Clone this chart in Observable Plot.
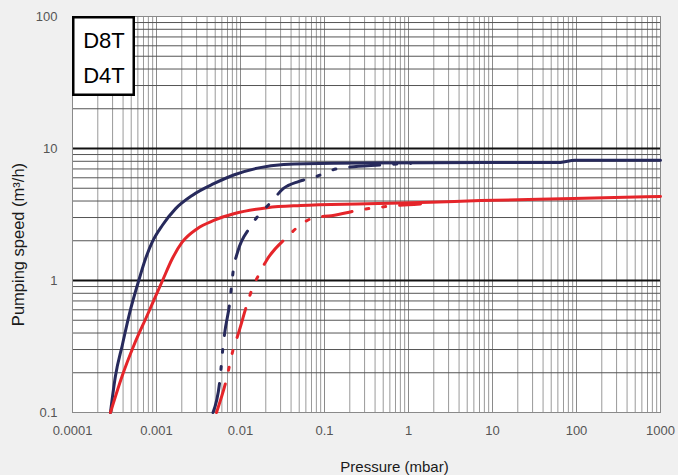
<!DOCTYPE html>
<html>
<head>
<meta charset="utf-8">
<script src="https://cdn.jsdelivr.net/npm/d3@7"></script>
<script src="https://cdn.jsdelivr.net/npm/@observablehq/plot@0.6"></script>
<style>
  html, body { margin: 0; padding: 0; background: #f0f0f0; }
  #chart { width: 678px; height: 475px; }
</style>
</head>
<body>
<div id="chart"></div>
<script>
// ---- tick values and labels ----
const xTicks = [0.0001, 0.001, 0.01, 0.1, 1, 10, 100, 1000];
const xTickLabels = ["0.0001", "0.001", "0.01", "0.1", "1", "10", "100", "1000"];
const yTicks = [0.1, 1, 10, 100];
const yTickLabels = ["0.1", "1", "10", "100"];
const xLabel = "Pressure (mbar)";
const yLabel = "Pumping speed (m³/h)";
const legendLabels = ["D8T", "D4T"];

// ---- D8T solid curve ----
const d8tPressure = [2.83e-4, 3.25e-4, 3.91e-4, 4.77e-4, 6.15e-4, 7.4e-4, 8.89e-4, 1.17e-3, 1.68e-3, 2.66e-3, 4.81e-3, 8.3e-3, 0.0159, 0.0327, 0.128, 1.83, 64.6, 95, 1000];
const d8tSpeed    = [0.1,     0.19,    0.322,   0.562,   1.0,     1.46,   1.95,    2.61,    3.49,    4.41,    5.41,    6.3,    7.1,    7.57,   7.74,  7.8,  7.85, 8.15, 8.15];

// ---- D4T solid curve ----
const d4tPressure = [2.83e-4, 3.91e-4, 5.37e-4, 7.74e-4, 1.18e-3, 1.54e-3, 2.02e-3, 3.05e-3, 4.81e-3, 8.31e-3, 0.0208, 0.0518, 0.322, 1.83, 7.2, 92, 1000];
const d4tSpeed    = [0.1,     0.19,    0.322,   0.543,   1.0,     1.46,    1.95,    2.47,    2.85,    3.2,     3.56,   3.70,   3.81,  3.92, 4.03, 4.18, 4.33];

// ---- D8T dash-dot curve ----
const d8tDashPressure = [4.71e-3, 5.68e-3, 6.16e-3, 6.5e-3, 7.46e-3, 7.81e-3, 8.26e-3, 9.2e-3, 0.01315, 0.024, 0.0325, 0.049, 0.074, 0.1416, 0.464, 1.06];
const d8tDashSpeed    = [0.1,     0.175,   0.304,   0.405,  0.686,   0.901,   1.23,    1.63,   2.56,    4.03,  4.98,   5.62,  6.03,  7.02,   7.5,   7.7];

// ---- D4T dash-dot curve ----
const d4tDashPressure = [5.18e-3, 6.76e-3, 8.18e-3, 9.4e-3, 0.0120, 0.01378, 0.0168, 0.0204, 0.0363, 0.0504, 0.076, 0.121, 0.283, 0.74, 1.39];
const d4tDashSpeed    = [0.1,     0.175,   0.30,    0.394,  0.665,  0.865,   1.13,   1.42,   2.15,   2.61,   3.0,   3.1,   3.45,  3.7,  3.8];

const navy = "#272a5c";
const red = "#e5252a";
const font = "'Liberation Sans', Arial, Helvetica, sans-serif";

const toRows = (P, S) => P.map((p, i) => ({p, s: S[i]}));

const minorSteps = [2, 3, 4, 5, 6, 7, 8, 9];
const xMinor = xTicks.slice(0, -1).flatMap(d => minorSteps.map(k => d * k));
const yMinor = yTicks.slice(0, -1).flatMap(d => minorSteps.map(k => d * k));

const dashPattern = "30,14,3,14,3,14";

const mLeft = 72, mTop = 16;

const plot = Plot.plot({
  width: 678,
  height: 475,
  marginLeft: mLeft,
  marginRight: 18,
  marginTop: mTop,
  marginBottom: 63,
  style: {background: "#f0f0f0", fontFamily: font},
  x: {type: "log", domain: [1e-4, 1e3]},
  y: {type: "log", domain: [0.1, 100]},
  marks: [
    Plot.frame({fill: "white", stroke: null}),
    Plot.ruleX(xMinor, {stroke: "#9a9a9a", strokeWidth: 1}),
    Plot.ruleX(xTicks, {stroke: "#8a8a8a", strokeWidth: 1}),
    Plot.ruleY(yMinor, {stroke: "#555", strokeWidth: 1}),
    Plot.ruleY([1, 10], {stroke: "#111", strokeWidth: 2}),
    Plot.frame({stroke: "#8a8a8a", fill: null}),
    Plot.line(toRows(d8tPressure, d8tSpeed), {x: "p", y: "s", stroke: navy, strokeWidth: 3, curve: "monotone-x"}),
    Plot.line(toRows(d4tPressure, d4tSpeed), {x: "p", y: "s", stroke: red, strokeWidth: 3, curve: "monotone-x"}),
    Plot.line(toRows(d8tDashPressure, d8tDashSpeed), {x: "p", y: "s", stroke: navy, strokeWidth: 3, curve: "monotone-x", strokeDasharray: dashPattern}),
    Plot.line(toRows(d4tDashPressure, d4tDashSpeed), {x: "p", y: "s", stroke: red, strokeWidth: 3, curve: "monotone-x", strokeDasharray: dashPattern}),
    Plot.axisX({ticks: xTicks, tickFormat: d => xTickLabels[xTicks.indexOf(d)], tickSize: 0, tickPadding: 13, fontSize: 13, color: "#555", label: null}),
    Plot.axisY({ticks: yTicks, tickFormat: d => yTickLabels[yTicks.indexOf(d)], tickSize: 0, tickPadding: 15, fontSize: 13, color: "#555", label: null}),
    Plot.text([xLabel], {frameAnchor: "bottom", textAnchor: "middle", dx: 28, dy: 59, text: d => d, fontSize: 15, fill: "#1a1a1a"}),
    Plot.text([yLabel], {frameAnchor: "left", textAnchor: "middle", dx: -54, dy: 30, rotate: -90, text: d => d, fontSize: 16.5, fill: "#1a1a1a"})
  ]
});

// legend box in the top-left corner of the plot frame
const svgSel = d3.select(plot);
const boxW = 63, boxH = 80, bw = 2.5;
const g = svgSel.append("g");
g.append("rect")
  .attr("x", mLeft + bw / 2).attr("y", mTop + bw / 2)
  .attr("width", boxW - bw).attr("height", boxH - bw)
  .attr("fill", "white").attr("stroke", "#000").attr("stroke-width", bw);
legendLabels.forEach((t, i) => {
  g.append("text")
    .attr("x", mLeft + boxW / 2 + 0.5)
    .attr("y", mTop + 32 + i * 35)
    .attr("text-anchor", "middle")
    .attr("font-family", font)
    .attr("font-size", 22)
    .attr("fill", "#000")
    .text(t);
});

document.getElementById("chart").appendChild(plot);
</script>
</body>
</html>
